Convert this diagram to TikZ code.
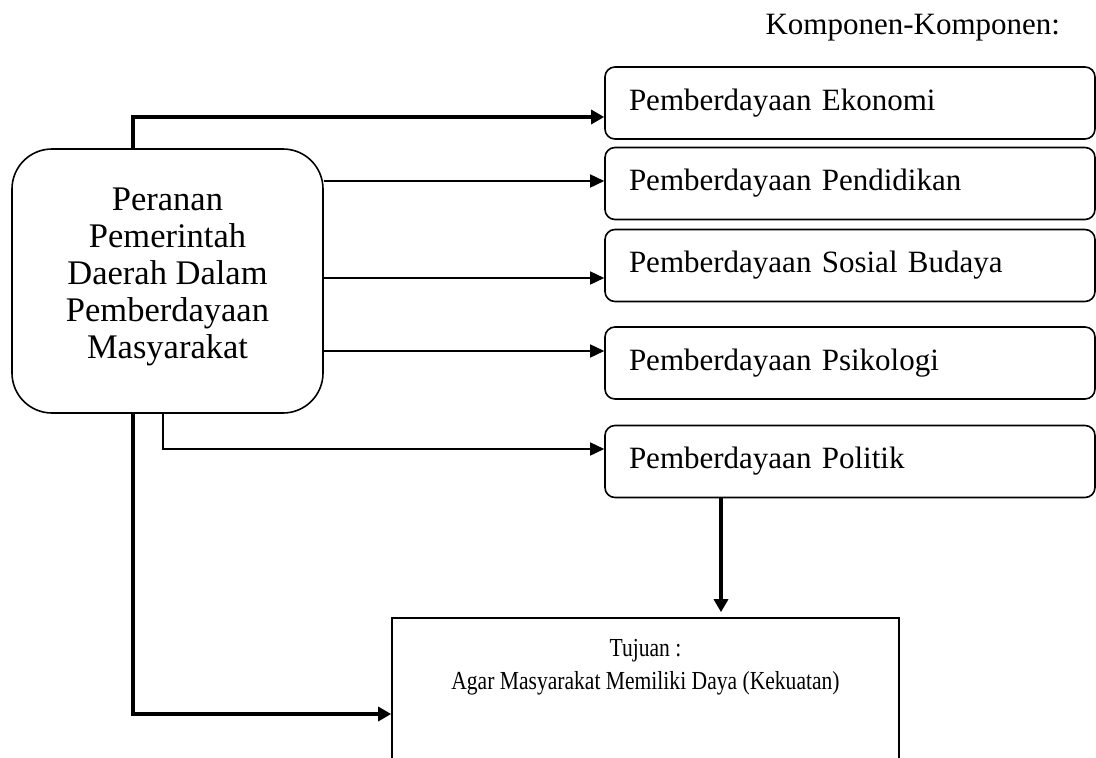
\documentclass[tikz,border=0pt]{standalone}
\usepackage{fontspec}
\setmainfont{Liberation Serif}
\usetikzlibrary{arrows.meta,calc}
\begin{document}
\begin{tikzpicture}[x=1pt,y=-1pt,
  comp/.style={draw, line width=1.6pt, rounded corners=10pt,
    minimum height=72pt, text width=442pt, align=left, inner xsep=24pt, inner ysep=0pt,
    font=\fontsize{31}{36}\selectfont},
  mainbox/.style={draw, line width=1.6pt, rounded corners=40pt, inner sep=0pt, minimum width=311pt},
  goalbox/.style={draw, line width=1.6pt, inner sep=0pt, minimum width=507pt},
  thinarrow/.style={line width=1.6pt, -{Triangle[length=14pt,width=13pt]}},
  thickarrow/.style={line width=3.2pt, -{Triangle[length=13pt,width=14pt]}}
]
\useasboundingbox (0,0) rectangle (1096,758);
\clip (0,0) rectangle (1096,758);

\coordinate (cA) at (133,0);
\coordinate (cB) at (163,0);
\coordinate (cC) at (721,0);

\node[anchor=base west, font=\fontsize{31}{36}\selectfont] (title) at (762,34) {Komponen-Komponen:};

\node[mainbox] (main) at (167.5,281) {\parbox[c][264pt][c]{311pt}{\centering\fontsize{34.5}{37}\selectfont Peranan\\Pemerintah\\Daerah Dalam\\Pemberdayaan\\Masyarakat\par\vspace{8pt}}};

\node[comp] (eko) at (850,103) {Pemberdayaan Ekonomi};
\node[comp] (pend) at (850,183.5) {Pemberdayaan Pendidikan};
\node[comp] (sos) at (850,265.5) {Pemberdayaan Sosial Budaya};
\node[comp] (psi) at (850,363) {Pemberdayaan Psikologi};
\node[comp] (pol) at (850,461.5) {Pemberdayaan Politik};

\node[goalbox] (goal) at (645.5,714) {\parbox[c][192pt][t]{500pt}{\centering\fontsize{26}{33}\selectfont\vspace*{21pt}\scalebox{0.83}[1]{Tujuan :}\\\scalebox{0.83}[1]{Agar Masyarakat Memiliki Daya (Kekuatan)}\par}};

\draw[thickarrow] (main.north -| cA) |- ([yshift=-14pt]eko.west);
\draw[thinarrow] (main.east |- pend.west) ++(0,-2.5) -- ([yshift=2.5pt]pend.west);
\draw[thinarrow] (main.east |- sos.west) ++(0,12.5) -- ([yshift=-12.5pt]sos.west);
\draw[thinarrow] (main.east |- psi.west) ++(0,-12) -- ([yshift=12pt]psi.west);
\draw[thinarrow] (main.south -| cB) |- ([yshift=12.5pt]pol.west);
\draw[thickarrow] (main.south -| cA) |- (goal.west);
\draw[thickarrow, shorten >=5pt] (pol.south -| cC) -- (goal.north -| cC);
\end{tikzpicture}
\end{document}
